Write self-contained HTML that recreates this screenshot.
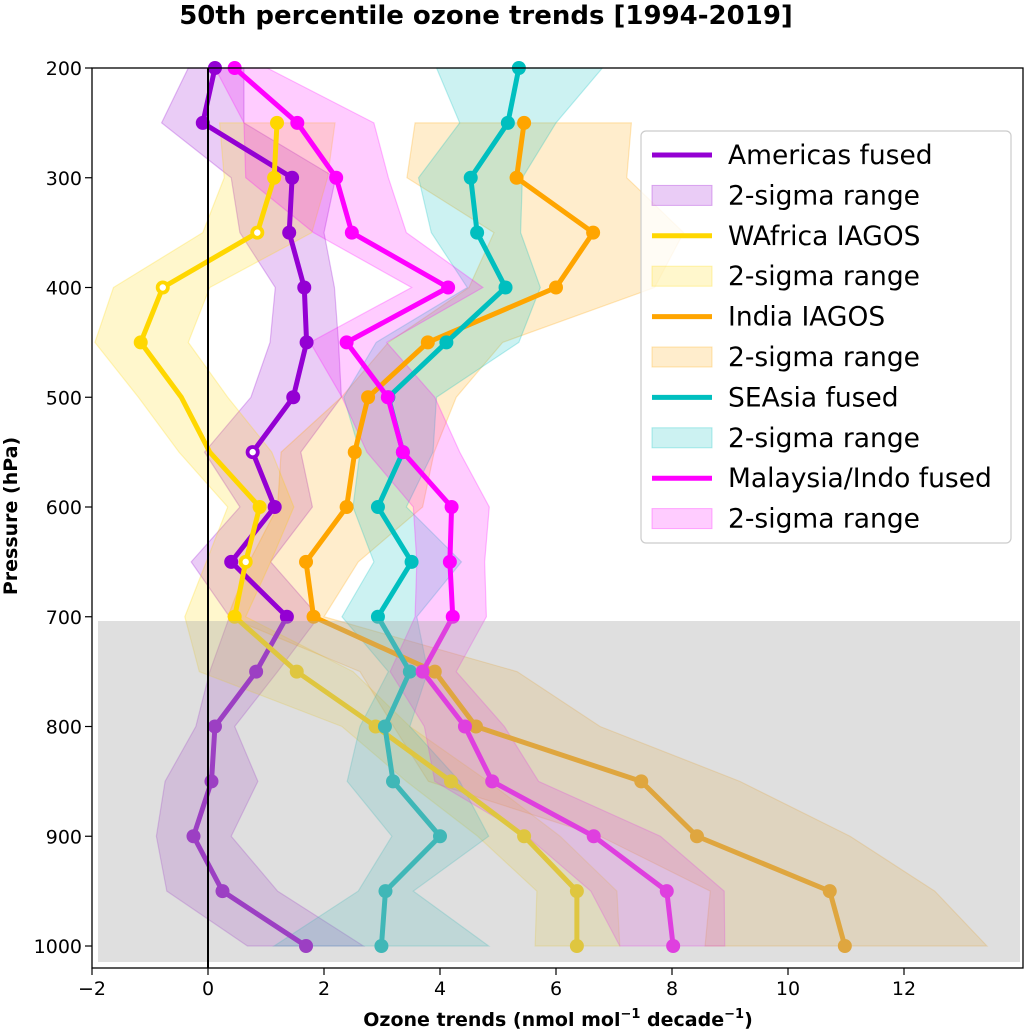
<!DOCTYPE html>
<html><head><meta charset="utf-8"><style>
body{margin:0;background:#fff;}
svg text{font-family:"DejaVu Sans","Liberation Sans",sans-serif;}
</style></head><body>
<svg id="chart" width="1028" height="1029" xmlns="http://www.w3.org/2000/svg">
<text x="486" y="24" font-size="26" font-weight="bold" text-anchor="middle">50th percentile ozone trends [1994-2019]</text>
<g id="bands"></g><g id="lines"></g>
<rect x="98" y="621" width="922" height="341" fill="#aaaaaa" fill-opacity="0.373"/>
<g id="axes"></g>
<text transform="translate(17,516) rotate(-90)" font-size="19" font-weight="bold" text-anchor="middle">Pressure (hPa)</text>
<text x="558" y="1026" font-size="19" font-weight="bold" text-anchor="middle">Ozone trends (nmol mol<tspan font-size="13" dy="-8">−1</tspan><tspan dy="8"> decade</tspan><tspan font-size="13" dy="-8">−1</tspan><tspan dy="8">)</tspan></text>
<g id="legend"></g>
</svg>
<script>
const levels=[200,250,300,350,400,450,500,550,600,650,700,750,800,850,900,950,1000];
const americas=[0.12,-0.09,1.45,1.40,1.66,1.70,1.47,0.77,1.15,0.40,1.36,0.83,0.12,0.06,-0.25,0.25,1.69];
const americasLo=[-0.34,-0.80,0.40,0.55,1.16,1.07,0.74,-0.06,0.55,-0.29,0.37,0.03,-0.21,-0.74,-0.89,-0.71,0.68];
const americasHi=[0.62,0.62,2.2,2.0,2.18,2.25,2.3,1.6,1.8,1.08,1.91,1.2,0.46,0.86,0.40,1.20,2.68];
const wafrica=[null,1.19,1.14,0.85,-0.78,-1.16,-0.46,0.03,0.89,0.65,0.46,1.53,2.89,4.19,5.45,6.36,6.36];
const wafricaLo=[null,0.2,0.28,-0.09,-1.63,-1.95,-1.2,-0.5,0.34,-0.03,-0.4,-0.15,2.31,3.42,4.65,5.67,5.64];
const wafricaHi=[null,2.19,2.06,1.79,0.03,-0.34,0.34,1.1,1.48,1.08,0.65,2.5,3.48,4.83,6.07,7.05,7.1];
const india=[null,5.45,5.32,6.64,6.0,3.79,2.76,2.53,2.39,1.69,1.82,3.91,4.62,7.47,8.43,10.72,10.98];
const indiaLo=[null,3.57,3.43,4.93,4.5,3.11,2.3,1.26,1.2,0.71,0.34,2.62,3.2,3.8,6.76,8.66,8.57];
const indiaHi=[null,7.3,7.22,8.2,7.7,5.08,4.28,3.9,3.7,2.59,2.0,5.33,6.76,9.17,11.07,12.53,13.43];
const seasia=[5.36,5.17,4.53,4.64,5.13,4.11,3.11,3.36,2.93,3.51,2.93,3.48,3.05,3.19,4.0,3.06,2.99];
const seasiaLo=[3.94,4.34,3.63,3.85,4.47,2.9,2.34,2.62,2.5,2.86,2.31,3.11,2.62,2.4,3.17,2.59,1.14];
const seasiaHi=[6.8,6.0,5.42,5.39,5.73,5.36,3.94,3.88,3.42,4.37,3.6,3.79,3.48,4.34,4.84,3.54,4.84];
const malaysia=[0.46,1.54,2.21,2.48,4.14,2.39,3.10,3.36,4.20,4.17,4.22,3.70,4.43,4.90,6.65,7.91,8.02];
const malaysiaLo=[0.12,0.62,0.65,1.82,3.51,1.76,2.31,2.74,3.54,3.6,3.57,3.14,3.73,3.91,5.5,6.6,7.1];
const malaysiaHi=[1.02,2.86,3.11,3.42,4.74,3.08,3.91,4.34,4.85,4.77,4.8,4.28,5.11,5.7,7.8,8.9,8.91];
const xTicks=[-2,0,2,4,6,8,10,12];
const yTicks=[200,300,400,500,600,700,800,900,1000];
const legendLabels=["Americas fused","2-sigma range","WAfrica IAGOS","2-sigma range","India IAGOS","2-sigma range","SEAsia fused","2-sigma range","Malaysia/Indo fused","2-sigma range"];

const NS="http://www.w3.org/2000/svg";
const X=v=>208+(v)*58;
const Y=p=>68+(p-200)*1.0975;
function mk(tag,attrs,parent){const e=document.createElementNS(NS,tag);for(const k in attrs)e.setAttribute(k,attrs[k]);parent.appendChild(e);return e;}
const series=[
 {key:"americas",v:americas,lo:americasLo,hi:americasHi,c:"#9400D3",hollow:[550],nomark:[]},
 {key:"wafrica",v:wafrica,lo:wafricaLo,hi:wafricaHi,c:"#FFD700",hollow:[350,400,650],nomark:[500,550]},
 {key:"india",v:india,lo:indiaLo,hi:indiaHi,c:"#FFA500",hollow:[],nomark:[]},
 {key:"seasia",v:seasia,lo:seasiaLo,hi:seasiaHi,c:"#00BFBF",hollow:[],nomark:[]},
 {key:"malaysia",v:malaysia,lo:malaysiaLo,hi:malaysiaHi,c:"#FF00FF",hollow:[],nomark:[]}
];
const gb=document.getElementById('bands'),gl=document.getElementById('lines');
series.forEach(s=>{
 const idx=levels.map((p,i)=>i).filter(i=>s.v[i]!==null);
 const up=idx.map(i=>X(s.hi[i])+","+Y(levels[i]));
 const dn=idx.slice().reverse().map(i=>X(s.lo[i])+","+Y(levels[i]));
 const b=mk('polygon',{points:up.concat(dn).join(" "),fill:s.c,'fill-opacity':0.2,stroke:s.c,'stroke-opacity':0.25,'stroke-width':1.2},gb);
 
 
});
series.forEach(s=>{
 const idx=levels.map((p,i)=>i).filter(i=>s.v[i]!==null);
 const l=mk('polyline',{points:idx.map(i=>X(s.v[i])+","+Y(levels[i])).join(" "),fill:"none",stroke:s.c,'stroke-width':5,'stroke-linejoin':'round'},gl);
 
 
 idx.forEach(i=>{
  if(s.nomark.includes(levels[i]))return;
  const m=mk('circle',{cx:X(s.v[i]),cy:Y(levels[i]),r:7,fill:s.c},gl);
  
  
  if(s.hollow.includes(levels[i])){const h=mk('circle',{cx:X(s.v[i]),cy:Y(levels[i]),r:3.2,fill:"#fff"},gl);
   
   }
 });
});
const ga=document.getElementById('axes');
const zl=mk('line',{x1:X(0),x2:X(0),y1:68,y2:968,stroke:"#000",'stroke-width':2},ga);


const fr=mk('rect',{x:92,y:68,width:931,height:900,fill:"none",stroke:"#000",'stroke-width':1.3},ga);


xTicks.forEach(t=>{
 mk('line',{x1:X(t),x2:X(t),y1:968,y2:975,stroke:"#000",'stroke-width':1.2},ga);
 const tx=mk('text',{x:X(t),y:995,'font-size':19,'text-anchor':'middle'},ga);
 tx.textContent=(t<0?"−"+(-t):t);
 
 
});
yTicks.forEach(t=>{
 mk('line',{x1:85,x2:92,y1:Y(t),y2:Y(t),stroke:"#000",'stroke-width':1.2},ga);
 const tx=mk('text',{x:82,y:Y(t)+7,'font-size':19,'text-anchor':'end'},ga);
 tx.textContent=t;
 
 
});
const lg=document.getElementById('legend');
const box=mk('rect',{x:641,y:131,width:370,height:412,rx:5,fill:"#fff",'fill-opacity':0.8,stroke:"#ccc",'stroke-width':1.2},lg);


legendLabels.forEach((lab,i)=>{
 const s=series[Math.floor(i/2)];const cy=155+i*40.4;
 if(i%2===0){const e=mk('line',{x1:652,x2:712,y1:cy,y2:cy,stroke:s.c,'stroke-width':5},lg);
  
  }
 else{const e=mk('rect',{x:652,y:cy-10,width:60,height:20,fill:s.c,'fill-opacity':0.2,stroke:s.c,'stroke-opacity':0.3},lg);
  
  }
 const t=mk('text',{x:728,y:cy+9,'font-size':26.5},lg);t.textContent=lab;
 
 
});
</script>
</body></html>
